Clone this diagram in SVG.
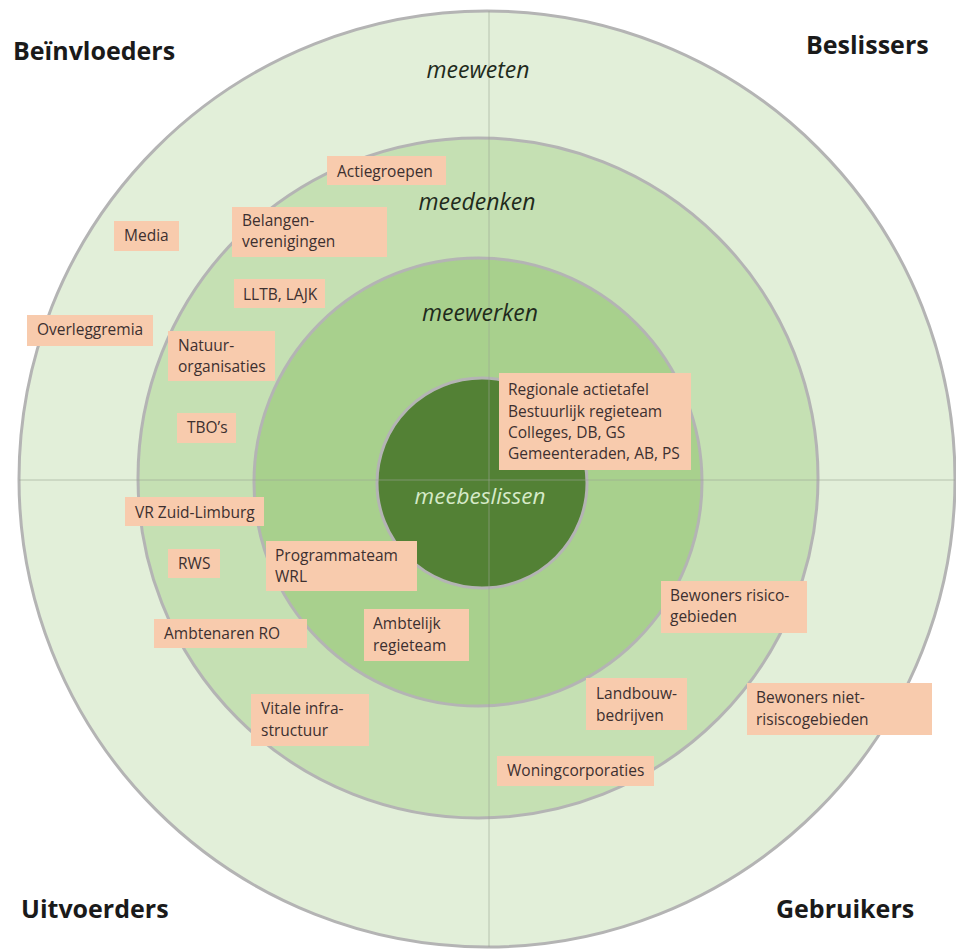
<svg xmlns="http://www.w3.org/2000/svg" width="956" height="950" viewBox="0 0 956 950">
<style>
.ring{stroke:#b4b4b4;stroke-width:3}
.box{fill:#f8cbad}
.bt{font-family:"Open Sans","Noto Sans",sans-serif;font-size:15.5px;fill:#3d3030}
.corner{font-family:"Open Sans","Noto Sans",sans-serif;font-size:25px;font-weight:bold;fill:#1a1a1a}
.lvl{font-family:"Open Sans","Noto Sans",sans-serif;font-size:23px;font-style:italic;fill:#1f2b1c;text-anchor:middle}
.axis{stroke:#9aa595;stroke-width:1;stroke-opacity:0.6;fill:none}
</style>
<rect width="956" height="950" fill="#ffffff"/>
<g id="rings">
<circle id="ring-meeweten" class="ring" cx="487" cy="479" r="468" fill="#e2efd9"/>
<circle id="ring-meedenken" class="ring" cx="478" cy="478" r="340" fill="#c5e0b3"/>
<circle id="ring-meewerken" class="ring" cx="478" cy="482" r="224" fill="#a8d08d"/>
<circle id="ring-meebeslissen" class="ring" cx="482" cy="483" r="105" fill="#538135" stroke="#a9c39a"/>
</g>
<g id="connectors">
<line class="axis" x1="489" y1="11" x2="489" y2="947"/>
<line class="axis" x1="19" y1="480" x2="955" y2="480"/>
</g>
<g id="levels">
<text class="lvl" x="478" y="78">meeweten</text>
<text class="lvl" x="477" y="210">meedenken</text>
<text class="lvl" x="480" y="321">meewerken</text>
<text class="lvl" x="480" y="504" style="fill:#d6eac8;font-size:22.5px">meebeslissen</text>
</g>
<g id="corners">
<text id="beinvloeders" class="corner" x="13" y="60">Beïnvloeders</text>
<text id="beslissers" class="corner" x="806" y="54">Beslissers</text>
<text id="uitvoerders" class="corner" x="21" y="918">Uitvoerders</text>
<text id="gebruikers" class="corner" x="776" y="918">Gebruikers</text>
</g>
<g id="actiegroepen"><rect class="box" x="327" y="156" width="119" height="29"/><text class="bt" x="337" y="177">Actiegroepen</text></g>
<g id="media"><rect class="box" x="114" y="221" width="65" height="30"/><text class="bt" x="124" y="241">Media</text></g>
<g id="belangenverenigingen"><rect class="box" x="232" y="207" width="155" height="50"/><text class="bt" x="242" y="226">Belangen-</text><text class="bt" x="242" y="247">verenigingen</text></g>
<g id="lltb"><rect class="box" x="234" y="279" width="91" height="29"/><text class="bt" x="243" y="300">LLTB, LAJK</text></g>
<g id="overleggremia"><rect class="box" x="27" y="315" width="126" height="31"/><text class="bt" x="37" y="335">Overleggremia</text></g>
<g id="natuurorganisaties"><rect class="box" x="168" y="331" width="107" height="50"/><text class="bt" x="178" y="351">Natuur-</text><text class="bt" x="178" y="372">organisaties</text></g>
<g id="tbos"><rect class="box" x="177" y="413" width="59" height="30"/><text class="bt" x="187" y="433">TBO’s</text></g>
<g id="regionale"><rect class="box" x="499" y="373" width="192" height="97"/><text class="bt" x="508" y="395">Regionale actietafel</text><text class="bt" x="508" y="417">Bestuurlijk regieteam</text><text class="bt" x="508" y="438">Colleges, DB, GS</text><text class="bt" x="508" y="459">Gemeenteraden, AB, PS</text></g>
<g id="vr-zuid-limburg"><rect class="box" x="125" y="497" width="139" height="29"/><text class="bt" x="135" y="518">VR Zuid-Limburg</text></g>
<g id="rws"><rect class="box" x="168" y="549" width="52" height="29"/><text class="bt" x="178" y="569">RWS</text></g>
<g id="programmateam"><rect class="box" x="266" y="541" width="151" height="50"/><text class="bt" x="275" y="561">Programmateam</text><text class="bt" x="275" y="582">WRL</text></g>
<g id="ambtenaren-ro"><rect class="box" x="154" y="619" width="153" height="29"/><text class="bt" x="164" y="639">Ambtenaren RO</text></g>
<g id="ambtelijk-regieteam"><rect class="box" x="364" y="609" width="105" height="52"/><text class="bt" x="373" y="629">Ambtelijk</text><text class="bt" x="373" y="651">regieteam</text></g>
<g id="vitale-infrastructuur"><rect class="box" x="251" y="694" width="118" height="52"/><text class="bt" x="261" y="714">Vitale infra-</text><text class="bt" x="261" y="736">structuur</text></g>
<g id="bewoners-risico"><rect class="box" x="661" y="581" width="146" height="52"/><text class="bt" x="670" y="601">Bewoners risico-</text><text class="bt" x="670" y="622">gebieden</text></g>
<g id="landbouwbedrijven"><rect class="box" x="586" y="678" width="101" height="52"/><text class="bt" x="596" y="699">Landbouw-</text><text class="bt" x="596" y="721">bedrijven</text></g>
<g id="bewoners-niet-risico"><rect class="box" x="747" y="683" width="185" height="52"/><text class="bt" x="756" y="703">Bewoners niet-</text><text class="bt" x="756" y="725">risiscogebieden</text></g>
<g id="woningcorporaties"><rect class="box" x="497" y="756" width="157" height="30"/><text class="bt" x="507" y="776">Woningcorporaties</text></g>
</svg>
